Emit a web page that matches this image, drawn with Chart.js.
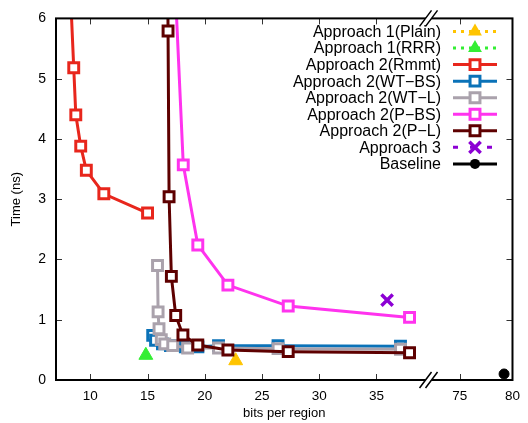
<!DOCTYPE html>
<html>
<head>
<meta charset="utf-8">
<script src="https://cdn.jsdelivr.net/npm/chart.js@4.4.1/dist/chart.umd.min.js"></script>
<style>
  html, body { margin: 0; padding: 0; background: #fff; }
  #wrap { width: 528px; height: 423px; }
</style>
</head>
<body>
<div id="wrap"><canvas id="chart" width="528" height="423"></canvas></div>
<script>
const FONT = '"Liberation Sans", Arial, Helvetica, sans-serif';

// broken x axis: left part 7..39.25, right part 71.7..80 (slightly tighter)
const BREAK_LO = 39.25, BREAK_HI = 71.7, RIGHT_SCALE = 0.92;
const bx = x => (x <= BREAK_LO ? x : BREAK_LO + (x - BREAK_HI) * RIGHT_SCALE);

const xTickLabels = [10, 15, 20, 25, 30, 35, 75, 80];
const yTickLabels = [0, 1, 2, 3, 4, 5, 6];

// series values (x = bits per region, y = time in ns)
const plainX = [22.7];
const plainY = [0.32];
const rrrX = [14.85];
const rrrY = [0.41];
const rmmtX = [7.9, 8.55, 8.73, 9.16, 9.65, 11.18, 15.0];
const rmmtY = [8.0, 5.18, 4.40, 3.88, 3.48, 3.09, 2.77];
const wtbsX = [15.45, 15.7, 16.3, 17.0, 18.3, 19.4, 21.2, 26.4, 37.1];
const wtbsY = [0.74, 0.66, 0.60, 0.57, 0.55, 0.55, 0.57, 0.57, 0.56];
const wtlX = [15.87, 15.92, 16.0, 16.2, 16.5, 17.2, 18.5, 21.2, 26.4, 37.1];
const wtlY = [1.90, 1.13, 0.85, 0.67, 0.60, 0.57, 0.53, 0.53, 0.52, 0.51];
const pbsX = [17.3, 18.12, 19.39, 22.02, 27.29, 37.89];
const pbsY = [7.0, 3.57, 2.24, 1.575, 1.227, 1.039];
const plX = [16.75, 16.79, 16.88, 17.08, 17.46, 18.09, 19.39, 22.02, 27.29, 37.89];
const plY = [7.0, 5.79, 3.04, 1.72, 1.07, 0.746, 0.58, 0.497, 0.47, 0.453];
const app3X = [35.93];
const app3Y = [1.326];
const baseX = [79.2];
const baseY = [0.1];

const series = [
  { label: 'Approach 1(Plain)', xs: plainX, ys: plainY, color: '#ffc400', style: 'triangle', line: 'dot' },
  { label: 'Approach 1(RRR)', xs: rrrX, ys: rrrY, color: '#33ee33', style: 'triangle', line: 'dot' },
  { label: 'Approach 2(Rmmt)', xs: rmmtX, ys: rmmtY, color: '#e8261c', style: 'rect', line: 'solid' },
  { label: 'Approach 2(WT\u2212BS)', xs: wtbsX, ys: wtbsY, color: '#0a72b8', style: 'rect', line: 'solid' },
  { label: 'Approach 2(WT\u2212L)', xs: wtlX, ys: wtlY, color: '#aaa2ac', style: 'rect', line: 'solid' },
  { label: 'Approach 2(P\u2212BS)', xs: pbsX, ys: pbsY, color: '#ff33ee', style: 'rect', line: 'solid' },
  { label: 'Approach 2(P\u2212L)', xs: plX, ys: plY, color: '#5e0000', style: 'rect', line: 'solid' },
  { label: 'Approach 3', xs: app3X, ys: app3Y, color: '#8c00d4', style: 'crossRot', line: 'dash' },
  { label: 'Baseline', xs: baseX, ys: baseY, color: '#000000', style: 'circle', line: 'solid' },
];

const radiusFor = s => ({ triangle: 8, rect: 7, crossRot: 8, circle: 5 }[s]);

const datasets = series.map((s, i) => ({
  label: s.label,
  data: s.xs.map((x, k) => ({ x: bx(x), y: s.ys[k] })),
  showLine: s.line === 'solid' && s.xs.length > 1,
  borderColor: s.color,
  backgroundColor: s.color,
  borderWidth: 3,
  pointStyle: s.style,
  pointRadius: radiusFor(s.style),
  pointHoverRadius: radiusFor(s.style),
  pointBorderColor: s.color,
  pointBackgroundColor: s.style === 'rect' ? '#ffffff' : s.color,
  pointBorderWidth: s.style === 'rect' ? 3 : (s.style === 'crossRot' ? 3.5 : 1),
  tension: 0,
  order: series.length - i,
}));

function markPath(ctx, style, x, y, r, color) {
  ctx.save();
  ctx.strokeStyle = color;
  ctx.fillStyle = color;
  ctx.setLineDash([]);
  ctx.beginPath();
  if (style === 'rect') {
    const h = r * Math.SQRT1_2;
    ctx.fillStyle = '#fff';
    ctx.lineWidth = 3;
    ctx.rect(x - h, y - h, 2 * h, 2 * h);
    ctx.fill(); ctx.stroke();
  } else if (style === 'triangle') {
    for (let k = 0; k < 3; k++) {
      const a = k * 2 * Math.PI / 3;
      const px = x + Math.sin(a) * r, py = y - Math.cos(a) * r;
      k ? ctx.lineTo(px, py) : ctx.moveTo(px, py);
    }
    ctx.closePath(); ctx.fill();
  } else if (style === 'crossRot') {
    const h = r * Math.SQRT1_2;
    ctx.lineWidth = 3.5;
    ctx.moveTo(x - h, y - h); ctx.lineTo(x + h, y + h);
    ctx.moveTo(x + h, y - h); ctx.lineTo(x - h, y + h);
    ctx.stroke();
  } else {
    ctx.arc(x, y, r, 0, Math.PI * 2);
    ctx.fill();
  }
  ctx.restore();
}

const framePlugin = {
  id: 'frame',
  afterDatasetsDraw(chart) {
    const { ctx, chartArea: a, scales: { x, y } } = chart;
    ctx.save();
    // inward ticks
    ctx.strokeStyle = '#333';
    ctx.lineWidth = 1;
    ctx.beginPath();
    xTickLabels.forEach(v => {
      const px = Math.round(x.getPixelForValue(bx(v))) + 0.5;
      if (px > a.right - 2) return;
      ctx.moveTo(px, a.bottom); ctx.lineTo(px, a.bottom - 6);
      ctx.moveTo(px, a.top); ctx.lineTo(px, a.top + 6);
    });
    yTickLabels.forEach(v => {
      const py = Math.round(y.getPixelForValue(v)) + 0.5;
      if (py < a.top + 2 || py > a.bottom - 2) return;
      ctx.moveTo(a.left, py); ctx.lineTo(a.left + 6, py);
      ctx.moveTo(a.right, py); ctx.lineTo(a.right - 6, py);
    });
    ctx.stroke();

    // border
    ctx.strokeStyle = '#000';
    ctx.lineWidth = 2;
    ctx.strokeRect(a.left, a.top, a.right - a.left, a.bottom - a.top);

    // axis break marks
    const bpx = x.getPixelForValue(BREAK_LO + 0.3);
    [a.bottom, a.top].forEach(yy => {
      ctx.fillStyle = '#fff';
      ctx.beginPath();
      ctx.moveTo(bpx - 9, yy + 8); ctx.lineTo(bpx - 3, yy + 8);
      ctx.lineTo(bpx + 9, yy - 8); ctx.lineTo(bpx + 3, yy - 8);
      ctx.closePath(); ctx.fill();
      ctx.strokeStyle = '#000';
      ctx.lineWidth = 1.5;
      ctx.beginPath();
      ctx.moveTo(bpx - 9, yy + 8); ctx.lineTo(bpx + 3, yy - 8);
      ctx.moveTo(bpx - 3, yy + 8); ctx.lineTo(bpx + 9, yy - 8);
      ctx.stroke();
    });

    // legend
    const textRight = 441, lineL = 453, lineR = 497, markX = 475;
    ctx.font = '16px ' + FONT;
    ctx.textAlign = 'right';
    ctx.textBaseline = 'middle';
    series.forEach((s, i) => {
      const yy = 31.5 + i * 16.55;
      ctx.fillStyle = '#000';
      ctx.fillText(s.label, textRight, yy + 1);
      ctx.strokeStyle = s.color;
      ctx.lineWidth = 3;
      if (s.line === 'dot') ctx.setLineDash([3, 5]);
      else if (s.line === 'dash') ctx.setLineDash([5, 12]);
      else ctx.setLineDash([]);
      ctx.beginPath();
      ctx.moveTo(lineL, yy); ctx.lineTo(lineR, yy);
      ctx.stroke();
      ctx.setLineDash([]);
      markPath(ctx, s.style, markX, yy, radiusFor(s.style), s.color);
    });
    ctx.restore();
  },
};

new Chart(document.getElementById('chart'), {
  type: 'line',
  data: { datasets },
  options: {
    responsive: false,
    devicePixelRatio: 1,
    animation: false,
    layout: { padding: { top: 18, right: 12, left: 0, bottom: 0 } },
    plugins: { legend: { display: false }, tooltip: { enabled: false } },
    scales: {
      x: {
        type: 'linear',
        min: 7,
        max: bx(80),
        afterBuildTicks: scale => { scale.ticks = xTickLabels.map(v => ({ value: bx(v) })); },
        afterFit: scale => { scale.height = 43; },
        grid: { display: true, drawOnChartArea: false, drawTicks: false },
        border: { display: false },
        ticks: {
          padding: 8,
          color: '#000',
          font: { family: FONT, size: 13.5 },
          maxRotation: 0,
          autoSkip: false,
          callback: (v, i) => String(xTickLabels[i]),
        },
        title: {
          display: true,
          text: 'bits per region',
          color: '#000',
          font: { family: FONT, size: 13 },
          padding: { top: 0, bottom: 2 },
        },
      },
      y: {
        min: 0,
        max: 6,
        afterBuildTicks: scale => { scale.ticks = yTickLabels.map(v => ({ value: v })); },
        afterFit: scale => { scale.width = 56; },
        grid: { display: true, drawOnChartArea: false, drawTicks: false },
        border: { display: false },
        ticks: {
          padding: 10,
          color: '#000',
          font: { family: FONT, size: 14 },
          callback: v => String(v),
        },
        title: {
          display: true,
          text: 'Time (ns)',
          color: '#000',
          font: { family: FONT, size: 13 },
          padding: { top: 9, bottom: 0 },
        },
      },
    },
  },
  plugins: [framePlugin],
});
</script>
</body>
</html>
